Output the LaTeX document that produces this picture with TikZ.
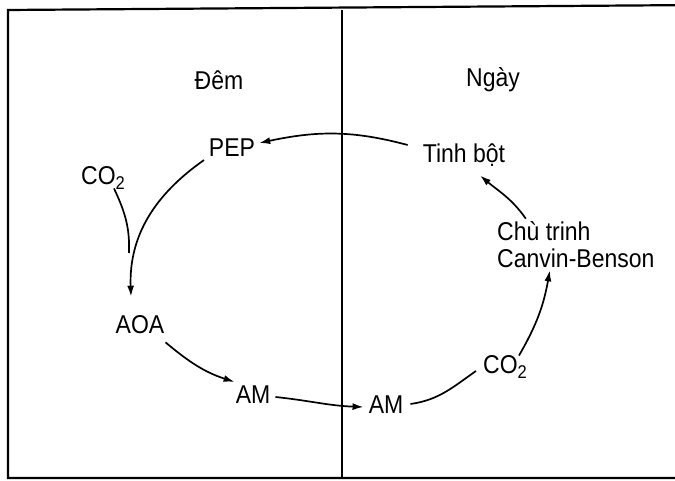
\documentclass[tikz,border=0pt]{standalone}
\usepackage{fontspec}
\usepackage{graphicx}
\setmainfont{Liberation Sans}
\usetikzlibrary{arrows.meta}
\newcommand\vstr[1]{\scalebox{1}[1.12]{#1}}
\newcommand\subtwo{\raisebox{-4pt}{\fontsize{16.5}{16.5}\selectfont 2}}
\tikzset{
  txt/.style={font=\fontsize{23}{27}\selectfont, inner sep=1pt},
  framel/.style={line width=2.2pt, black},
  arr/.style={line width=1.7pt, -{Latex[length=11pt,width=7pt]}},
  plain/.style={line width=1.7pt}
}
\begin{document}
\begin{tikzpicture}[x=1pt,y=1pt]
\clip (0,0) rectangle (675,481);
\fill[white] (0,0) rectangle (675,481);
% frame
\draw[framel] (700,476) -- (8,471) -- (8,3) -- (700,3);
\draw[line width=1.7pt] (342,471) -- (342,3);
% labels
\node[txt] (dem) at (219,401) {\vstr{Đêm}};
\node[txt] (ngay) at (493,401) {\vstr{Ngày}};
\node[txt] (pep) at (232,333) {\vstr{PEP}};
\node[txt] (co2a) at (103,303) {\vstr{CO\subtwo}};
\node[txt] (tinh) at (464,326) {\vstr{Tinh bột}};
\node[txt, anchor=west, align=left] (chu) at (496,236) {\vstr{Chù trinh}\\\vstr{Canvin-Benson}};
\node[txt] (aoa) at (140,156) {\vstr{AOA}};
\node[txt] (aml) at (253,86) {\vstr{AM}};
\node[txt] (amr) at (386,76) {\vstr{AM}};
\node[txt] (co2b) at (505,114) {\vstr{CO\subtwo}};
% connectors
\draw[arr] ([xshift=-14pt,yshift=10pt]tinh.west) to[out=165,in=12] ([xshift=3pt,yshift=5pt]pep.east);
\draw[arr] ([xshift=-28pt,yshift=-2pt]pep.south) to[out=215,in=92] ([xshift=-9pt,yshift=18pt]aoa.north);
\coordinate (join) at (129,228);
\draw[plain] ([xshift=11pt,yshift=2pt]co2a.south) to[out=-65,in=88] (join);
\draw[arr] ([xshift=0pt,yshift=-7pt]aoa.south east) to[out=-40,in=162] ([yshift=3pt]aml.north west);
\draw[arr] ([xshift=4pt,yshift=-2pt]aml.east) to[out=-6,in=178] ([xshift=-4pt,yshift=-2pt]amr.west);
\draw[plain] ([xshift=6pt,yshift=1pt]amr.east) to[out=8,in=215] ([xshift=-6pt,yshift=-4pt]co2b.west);
\draw[arr] ([xshift=14pt,yshift=-1pt]co2b.north) to[out=60,in=-100] ([xshift=-26pt,yshift=-1pt]chu.south);
\draw[arr] ([xshift=-50pt,yshift=2pt]chu.north) to[out=125,in=-40] ([xshift=16pt,yshift=-8pt]tinh.south);
\end{tikzpicture}
\end{document}
